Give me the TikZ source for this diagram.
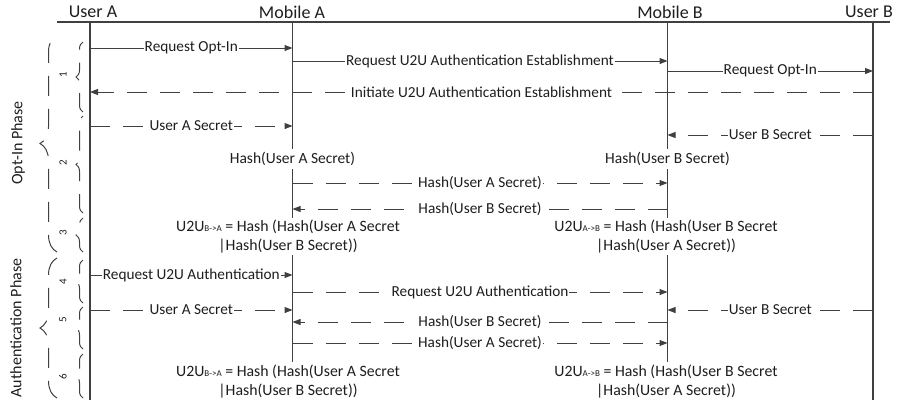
\documentclass[tikz,border=0pt]{standalone}
\usepackage{fontspec}
\setmainfont{Carlito}
\usetikzlibrary{arrows.meta,decorations.pathreplacing}
\definecolor{linegray}{HTML}{404040}
\definecolor{textgray}{HTML}{1E1E1E}

\begin{document}
\begin{tikzpicture}[x=1pt, y=-1pt,
    head/.style = {font=\fontsize{18}{20}\selectfont, text=textgray},
    life/.style = {draw=linegray, line width=1.1pt},
    msg/.style = {draw=linegray, line width=1pt, -{Triangle[length=8pt,width=6pt]}},
    dmsg/.style = {msg, dash pattern=on 20pt off 13pt},
    lbl/.style = {fill=white, inner xsep=1pt, inner ysep=0.5pt, font=\fontsize{15.3}{17}\selectfont, text=textgray},
    hashtxt/.style = {fill=white, inner sep=3pt, font=\fontsize{15.5}{17}\selectfont, text=textgray},
    calc/.style = {fill=white, align=center, inner sep=1.5pt, font=\fontsize{15.8}{19}\selectfont, text=textgray},
    phasebrace/.style = {decorate, decoration={brace, amplitude=17pt}, draw=linegray, line width=1pt, dash pattern=on 20pt off 13pt},
    stepbrace/.style = {decorate, decoration={brace, amplitude=7pt}, draw=linegray, line width=1pt, dash pattern=on 20pt off 13pt},
    phasetxt/.style = {rotate=90, font=\fontsize{16}{18}\selectfont, text=textgray},
    steptxt/.style = {rotate=90, font=\fontsize{11}{12}\selectfont, text=textgray}]
  \useasboundingbox (0,0) rectangle (905,405);

  % headers
  \node[head] (hua) at (93,12) {User A};
  \node[head] (hma) at (292,12) {Mobile A};
  \node[head] (hmb) at (670,12) {Mobile B};
  \node[head] (hub) at (869,12) {User B};
  \coordinate (hl) at (57,22);
  \coordinate (hr) at (890,22);
  \draw[draw=linegray, line width=1.6pt] (hl) -- (hr);

  % lifelines
  \coordinate (uatop) at (90,22);    \coordinate (uabot) at (90,400);
  \coordinate (matop) at (292.5,22); \coordinate (mabot) at (292.5,362);
  \coordinate (mbtop) at (667.5,22); \coordinate (mbbot) at (667.5,362);
  \coordinate (ubtop) at (873,22);   \coordinate (ubbot) at (873,400);
  \draw[life] (uatop) -- (uabot);
  \draw[life] (matop) -- (mabot);
  \draw[life] (mbtop) -- (mbbot);
  \draw[life] (ubtop) -- (ubbot);

  % message rows
  \foreach \r/\y in {1/48, 2/61, 3/71, 4/92, 5/126, 6/135, 7/183, 8/209,
                     9/275, 10/292, 11/310, 12/322, 13/343} {
    \coordinate (ua\r) at (90,\y);
    \coordinate (ma\r) at (292.5,\y);
    \coordinate (mb\r) at (667.5,\y);
    \coordinate (ub\r) at (873,\y);
  }

  % opt-in phase
  \draw[msg] (ua1) -- node[lbl] {Request Opt-In} (ma1);
  \draw[msg] (ma2) -- node[lbl] {Request U2U Authentication Establishment} (mb2);
  \draw[msg] (mb3) -- node[lbl] {Request Opt-In} (ub3);
  \draw[dmsg] (ub4) -- node[lbl] {Initiate U2U Authentication Establishment} (ua4);
  \draw[dmsg] (ua5) -- node[lbl] {User A Secret} (ma5);
  \draw[dmsg] (ub6) -- node[lbl] {User B Secret} (mb6);
  \node[hashtxt] (hasha) at (292.5,159) {Hash(User A Secret)};
  \node[hashtxt] (hashb) at (667.5,159) {Hash(User B Secret)};
  \draw[dmsg] (ma7) -- node[lbl] {Hash(User A Secret)} (mb7);
  \draw[dmsg] (mb8) -- node[lbl] {Hash(User B Secret)} (ma8);
  \node[calc] (u2uba) at (288,236.5) {U2U{\fontsize{9}{10}\selectfont B->A} = Hash (Hash(User A Secret\\|Hash(User B Secret))};
  \node[calc] (u2uab) at (666,236.5) {U2U{\fontsize{9}{10}\selectfont A->B} = Hash (Hash(User B Secret\\|Hash(User A Secret))};

  % authentication phase
  \draw[msg] (ua9) -- node[lbl] {Request U2U Authentication} (ma9);
  \draw[dmsg] (ma10) -- node[lbl] {Request U2U Authentication} (mb10);
  \draw[dmsg] (ua11) -- node[lbl] {User A Secret} (ma11);
  \draw[dmsg] (ub11) -- node[lbl] {User B Secret} (mb11);
  \draw[dmsg] (mb12) -- node[lbl] {Hash(User B Secret)} (ma12);
  \draw[dmsg] (ma13) -- node[lbl] {Hash(User A Secret)} (mb13);
  \node[calc] (u2uba2) at (288,382) {U2U{\fontsize{9}{10}\selectfont B->A} = Hash (Hash(User A Secret\\|Hash(User B Secret))};
  \node[calc] (u2uab2) at (666,382) {U2U{\fontsize{9}{10}\selectfont A->B} = Hash (Hash(User B Secret\\|Hash(User A Secret))};

  % phase braces
  \coordinate (p1b) at (57,252); \coordinate (p1t) at (57,35);
  \coordinate (p2b) at (57,398); \coordinate (p2t) at (57,258);
  \draw[phasebrace] (p1b) -- (p1t);
  \draw[phasebrace] (p2b) -- (p2t);
  \node[phasetxt] (optin) at (18,143) {Opt-In Phase};
  \node[phasetxt] (auth) at (16,328) {Authentication Phase};

  % step braces
  \foreach \s/\top/\bot/\ny in {1/42/112/75, 2/116/213/163, 3/218/252/233,
                                4/260/303/282, 5/307/349/320, 6/354/398/377} {
    \coordinate (s\s t) at (83,\top);
    \coordinate (s\s b) at (83,\bot);
    \draw[stepbrace] (s\s b) -- (s\s t);
    \node[steptxt] (n\s) at (63,\ny) {\s};
  }
\end{tikzpicture}
\end{document}
